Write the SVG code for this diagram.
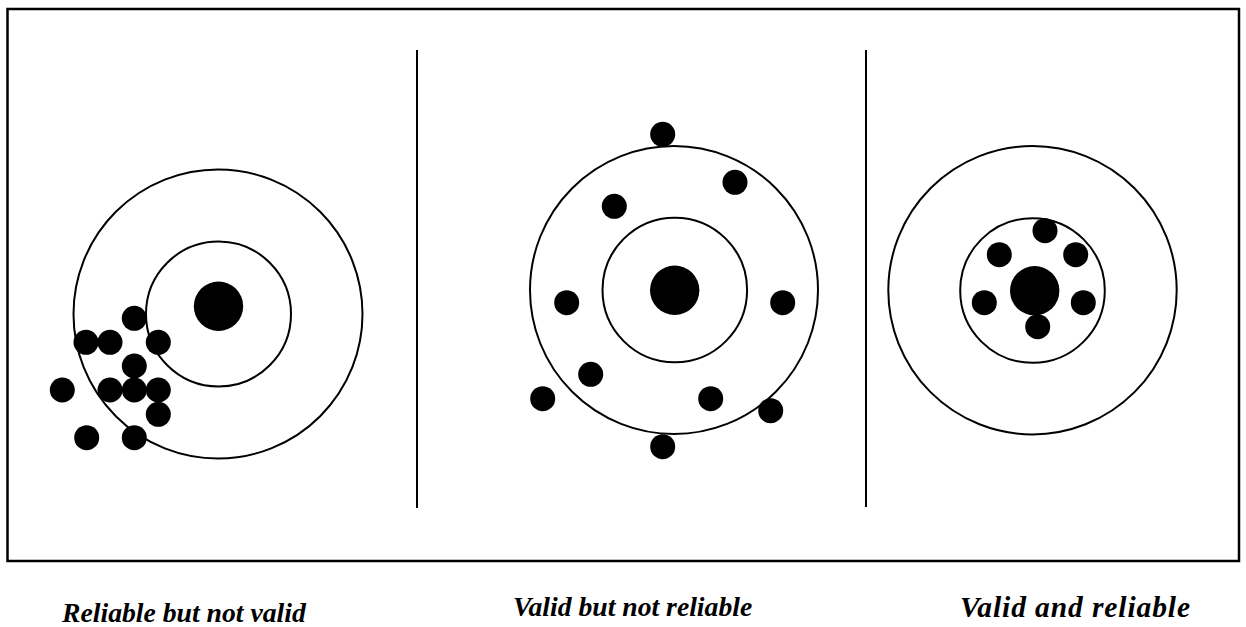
<svg xmlns="http://www.w3.org/2000/svg" width="1246" height="627" viewBox="0 0 1246 627">
<style>
.ring{fill:none;stroke:#000;stroke-width:2}
.dot{fill:#000}
.div{stroke:#000;stroke-width:2}
.lbl{font-family:"Liberation Serif","Times New Roman",serif;font-weight:bold;font-style:italic;font-size:27.7px;fill:#000}
</style>
<rect x="0" y="0" width="1246" height="627" fill="#fff"/>
<rect x="7.5" y="9" width="1231.5" height="552" fill="none" stroke="#000" stroke-width="2.5"/>
<g id="dividers">
<line class="div" x1="417" y1="50" x2="417" y2="508"/>
<line class="div" x1="866" y1="50" x2="866" y2="507"/>
</g>
<g id="target-left">
<circle class="ring" cx="218" cy="314" r="144.5"/>
<circle class="ring" cx="218.5" cy="314" r="72.5"/>
<circle class="dot" cx="218.5" cy="306.3" r="24.7"/>
<circle class="dot" cx="134.3" cy="318.3" r="12.5"/>
<circle class="dot" cx="86" cy="342.3" r="12.5"/>
<circle class="dot" cx="110" cy="342.3" r="12.5"/>
<circle class="dot" cx="158.3" cy="342.3" r="12.5"/>
<circle class="dot" cx="134.3" cy="366" r="12.5"/>
<circle class="dot" cx="62.3" cy="390" r="12.5"/>
<circle class="dot" cx="110" cy="390" r="12.5"/>
<circle class="dot" cx="134.3" cy="390" r="12.5"/>
<circle class="dot" cx="158.3" cy="390" r="12.5"/>
<circle class="dot" cx="158.3" cy="414.3" r="12.5"/>
<circle class="dot" cx="86.7" cy="437.7" r="12.5"/>
<circle class="dot" cx="134.3" cy="437.7" r="12.5"/>
</g>
<g id="target-middle">
<circle class="ring" cx="674" cy="290" r="144"/>
<circle class="ring" cx="674.8" cy="290" r="72.3"/>
<circle class="dot" cx="674.7" cy="290.3" r="24.7"/>
<circle class="dot" cx="662.7" cy="134.3" r="12.5"/>
<circle class="dot" cx="735" cy="182.3" r="12.5"/>
<circle class="dot" cx="614.3" cy="206.3" r="12.5"/>
<circle class="dot" cx="566.7" cy="302.7" r="12.5"/>
<circle class="dot" cx="782.7" cy="302.7" r="12.5"/>
<circle class="dot" cx="590.7" cy="374.3" r="12.5"/>
<circle class="dot" cx="542.7" cy="398.7" r="12.5"/>
<circle class="dot" cx="710.7" cy="398.7" r="12.5"/>
<circle class="dot" cx="770.7" cy="410.7" r="12.5"/>
<circle class="dot" cx="662.7" cy="446.7" r="12.5"/>
</g>
<g id="target-right">
<circle class="ring" cx="1032.5" cy="290.2" r="144.2"/>
<circle class="ring" cx="1032.5" cy="290.5" r="72.3"/>
<circle class="dot" cx="1034.7" cy="290.7" r="24.7"/>
<circle class="dot" cx="1045" cy="230.7" r="12.5"/>
<circle class="dot" cx="999.3" cy="254.7" r="12.5"/>
<circle class="dot" cx="1075.7" cy="254.7" r="12.5"/>
<circle class="dot" cx="984.3" cy="302.7" r="12.5"/>
<circle class="dot" cx="1083.3" cy="302.7" r="12.5"/>
<circle class="dot" cx="1037.7" cy="326.7" r="12.5"/>
</g>
<g id="labels">
<text class="lbl" x="62" y="622">Reliable but not valid</text>
<text class="lbl" x="513" y="616">Valid but not reliable</text>
<text class="lbl" x="960" y="617" style="font-size:29.5px;letter-spacing:0.9px">Valid and reliable</text>
</g>
</svg>
